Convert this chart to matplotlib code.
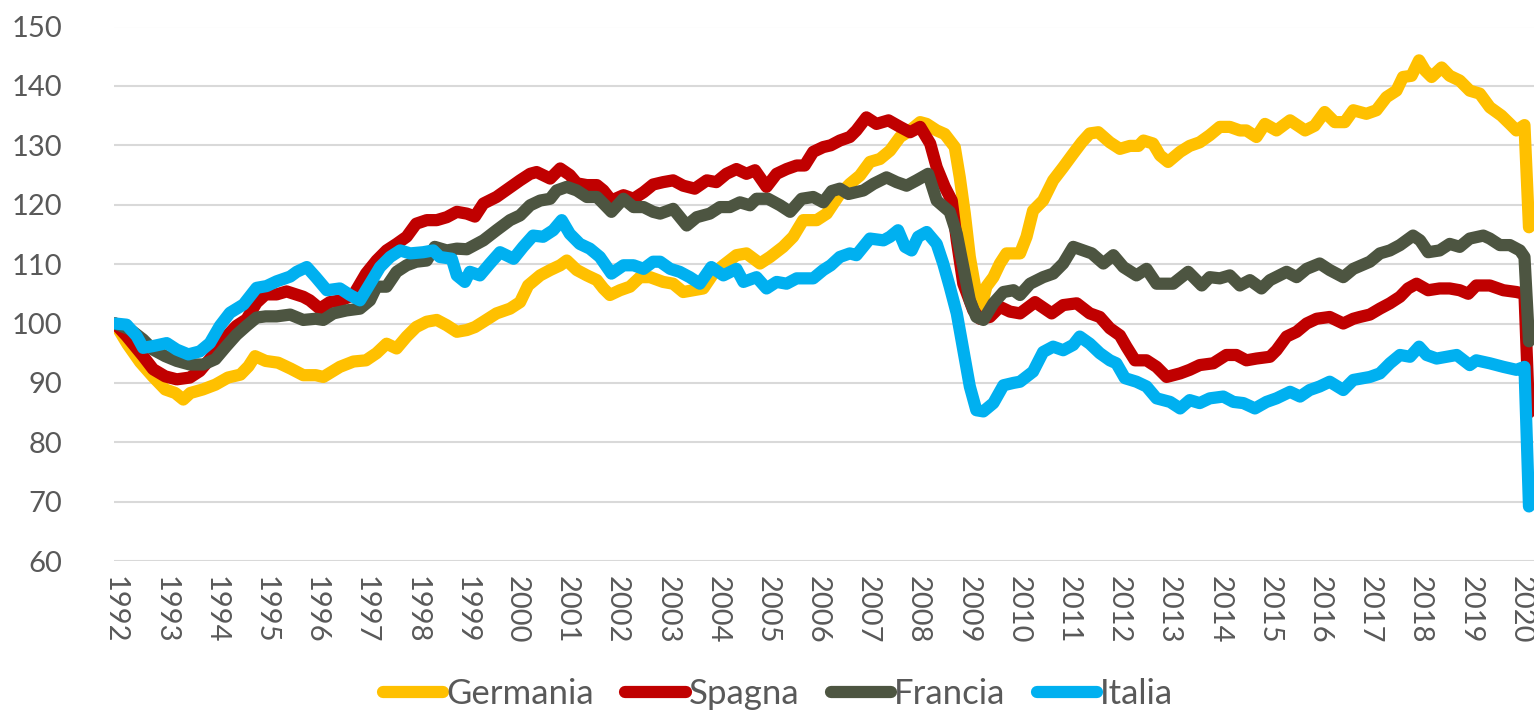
import matplotlib
matplotlib.use("Agg")
import matplotlib.pyplot as plt
from matplotlib.lines import Line2D

plt.rcParams['font.family'] = ['Lato', 'DejaVu Sans']

# (decimal year, index value) readings
germania = [
    (1992.00, 100), (1992.25, 96.5), (1992.50, 93.5), (1992.75, 91.1), (1993.00, 88.9),
    (1993.20, 88.3), (1993.36, 87.2), (1993.50, 88.3), (1993.75, 88.9), (1994.00, 89.7),
    (1994.25, 90.9), (1994.50, 91.4), (1994.66, 92.8), (1994.79, 94.5), (1995.00, 93.7),
    (1995.25, 93.4), (1995.50, 92.4), (1995.75, 91.3), (1996.00, 91.3), (1996.15, 91.0),
    (1996.48, 92.7), (1996.75, 93.6), (1997.00, 93.8), (1997.21, 95.0), (1997.41, 96.6),
    (1997.61, 95.8), (1997.81, 97.8), (1998.00, 99.4), (1998.21, 100.3), (1998.41, 100.6),
    (1998.61, 99.7), (1998.81, 98.6), (1999.01, 98.9), (1999.17, 99.4), (1999.34, 100.3),
    (1999.60, 101.7), (1999.87, 102.5), (2000.07, 103.6), (2000.23, 106.4), (2000.47, 108.1),
    (2000.67, 109.0), (2000.87, 109.8), (2001.00, 110.6), (2001.20, 109.0), (2001.40, 108.1),
    (2001.60, 107.3), (2001.73, 105.9), (2001.86, 104.8), (2002.06, 105.6), (2002.26, 106.2),
    (2002.46, 107.8), (2002.66, 107.8), (2002.92, 107.0), (2003.12, 106.7), (2003.32, 105.3),
    (2003.52, 105.6), (2003.72, 105.9), (2003.92, 108.4), (2004.12, 109.8), (2004.38, 111.5),
    (2004.58, 111.8), (2004.85, 110.1), (2005.05, 111.2), (2005.31, 112.9), (2005.51, 114.6),
    (2005.71, 117.4), (2005.98, 117.4), (2006.18, 118.5), (2006.44, 121.8), (2006.64, 123.5),
    (2006.84, 124.9), (2007.04, 127.2), (2007.24, 127.7), (2007.44, 129.1), (2007.64, 131.4),
    (2007.84, 132.5), (2008.04, 133.9), (2008.17, 133.6), (2008.37, 132.5), (2008.53, 131.9),
    (2008.73, 129.7), (2008.83, 124.6), (2008.93, 118.5), (2009.03, 111.2), (2009.16, 105.0),
    (2009.26, 102.8), (2009.36, 106.2), (2009.50, 107.8), (2009.63, 110.1), (2009.76, 111.8),
    (2009.93, 111.8), (2010.03, 111.8), (2010.16, 114.6), (2010.29, 119.0), (2010.49, 120.7),
    (2010.69, 124.1), (2010.89, 126.3), (2011.09, 128.6), (2011.26, 130.5), (2011.42, 132.0),
    (2011.59, 132.2), (2011.82, 130.5), (2012.02, 129.4), (2012.22, 129.9), (2012.39, 129.9),
    (2012.49, 130.8), (2012.68, 130.3), (2012.82, 128.3), (2012.98, 127.2), (2013.22, 128.9),
    (2013.41, 129.9), (2013.61, 130.5), (2013.81, 131.7), (2014.01, 133.1), (2014.21, 133.1),
    (2014.41, 132.5), (2014.54, 132.5), (2014.74, 131.4), (2014.91, 133.6), (2015.14, 132.5),
    (2015.41, 134.2), (2015.71, 132.5), (2015.90, 133.3), (2016.10, 135.6), (2016.30, 133.9),
    (2016.50, 133.9), (2016.67, 135.9), (2016.93, 135.3), (2017.13, 135.9), (2017.33, 138.1),
    (2017.53, 139.2), (2017.66, 141.5), (2017.83, 141.7), (2017.98, 144.3), (2018.10, 142.6),
    (2018.23, 141.5), (2018.43, 143.1), (2018.59, 141.7), (2018.79, 140.9), (2018.99, 139.2),
    (2019.19, 138.7), (2019.39, 136.4), (2019.62, 135.0), (2019.79, 133.6), (2019.92, 132.5),
    (2020.08, 133.4), (2020.17, 116.2),
]

spagna = [
    (1992.00, 100), (1992.23, 97.9), (1992.56, 94.5), (1992.76, 92.3), (1993.00, 91.1),
    (1993.23, 90.6), (1993.49, 90.9), (1993.69, 92.0), (1993.89, 94.0), (1994.16, 97.3),
    (1994.42, 99.6), (1994.62, 100.7), (1994.82, 103.5), (1995.00, 104.9), (1995.22, 104.9),
    (1995.42, 105.4), (1995.75, 104.5), (1995.88, 103.9), (1996.08, 102.5), (1996.28, 103.6),
    (1996.50, 103.9), (1996.75, 104.8), (1997.00, 108.4), (1997.21, 110.6), (1997.41, 112.3),
    (1997.61, 113.4), (1997.81, 114.6), (1998.00, 116.8), (1998.21, 117.4), (1998.41, 117.4),
    (1998.61, 117.9), (1998.81, 118.8), (1999.01, 118.5), (1999.17, 118.0), (1999.34, 120.2),
    (1999.60, 121.3), (1999.87, 122.9), (2000.07, 124.1), (2000.27, 125.2), (2000.40, 125.5),
    (2000.67, 124.4), (2000.87, 126.1), (2001.06, 125.0), (2001.20, 123.6), (2001.40, 123.3),
    (2001.60, 123.3), (2001.73, 122.4), (2001.89, 120.7), (2002.13, 121.6), (2002.33, 121.0),
    (2002.53, 122.1), (2002.72, 123.4), (2002.92, 123.8), (2003.12, 124.1), (2003.32, 123.2),
    (2003.55, 122.7), (2003.79, 124.1), (2003.98, 123.8), (2004.18, 125.2), (2004.38, 126.0),
    (2004.58, 125.2), (2004.75, 125.8), (2004.98, 123.0), (2005.18, 125.2), (2005.38, 126.0),
    (2005.58, 126.6), (2005.74, 126.6), (2005.91, 128.9), (2006.11, 129.7), (2006.26, 130.0),
    (2006.44, 130.8), (2006.64, 131.4), (2006.77, 132.5), (2006.97, 134.7), (2007.17, 133.6),
    (2007.41, 134.2), (2007.64, 133.1), (2007.84, 132.2), (2008.04, 133.1), (2008.24, 130.3),
    (2008.37, 126.3), (2008.53, 123.0), (2008.67, 120.7), (2008.77, 114.0), (2008.90, 106.7),
    (2009.10, 102.2), (2009.23, 100.8), (2009.43, 101.1), (2009.63, 102.8), (2009.83, 102.0),
    (2010.03, 101.7), (2010.33, 103.6), (2010.66, 101.7), (2010.89, 103.1), (2011.16, 103.4),
    (2011.42, 101.7), (2011.62, 101.1), (2011.82, 99.2), (2012.02, 98.0), (2012.15, 96.1),
    (2012.32, 93.8), (2012.55, 93.8), (2012.75, 92.7), (2012.95, 91.0), (2013.22, 91.6),
    (2013.41, 92.2), (2013.61, 93.0), (2013.88, 93.3), (2014.14, 94.7), (2014.34, 94.7),
    (2014.54, 93.8), (2014.74, 94.1), (2015.01, 94.4), (2015.14, 95.5), (2015.34, 97.8),
    (2015.54, 98.6), (2015.74, 100.0), (2015.94, 100.8), (2016.20, 101.1), (2016.47, 100.0),
    (2016.67, 100.8), (2016.80, 101.1), (2017.00, 101.5), (2017.20, 102.5), (2017.40, 103.4),
    (2017.60, 104.5), (2017.76, 105.9), (2017.93, 106.7), (2018.16, 105.6), (2018.39, 105.9),
    (2018.59, 105.9), (2018.79, 105.6), (2018.96, 105.0), (2019.12, 106.4), (2019.39, 106.4),
    (2019.66, 105.6), (2019.92, 105.3), (2020.08, 105.0), (2020.17, 85.0),
]

francia = [
    (1992.00, 100), (1992.30, 99.0), (1992.56, 97.3), (1992.76, 95.6), (1993.00, 94.5),
    (1993.23, 93.7), (1993.49, 93.1), (1993.76, 93.1), (1994.00, 94.0), (1994.22, 96.2),
    (1994.42, 98.1), (1994.62, 99.6), (1994.82, 101.0), (1995.00, 101.2), (1995.22, 101.2),
    (1995.49, 101.5), (1995.75, 100.6), (1996.00, 100.8), (1996.15, 100.6), (1996.35, 101.7),
    (1996.61, 102.2), (1996.88, 102.5), (1997.08, 103.9), (1997.21, 106.2), (1997.41, 106.2),
    (1997.61, 108.7), (1997.81, 109.8), (1998.00, 110.4), (1998.21, 110.6), (1998.37, 112.9),
    (1998.61, 112.3), (1998.81, 112.6), (1999.01, 112.5), (1999.34, 114.0), (1999.60, 115.7),
    (1999.87, 117.4), (2000.07, 118.2), (2000.27, 119.9), (2000.47, 120.7), (2000.67, 121.0),
    (2000.80, 122.4), (2001.00, 123.0), (2001.20, 122.4), (2001.40, 121.3), (2001.60, 121.3),
    (2001.73, 120.2), (2001.89, 118.8), (2002.13, 121.0), (2002.33, 119.6), (2002.53, 119.6),
    (2002.72, 118.8), (2002.86, 118.5), (2003.12, 119.3), (2003.39, 116.5), (2003.59, 117.9),
    (2003.85, 118.5), (2004.05, 119.6), (2004.25, 119.6), (2004.45, 120.4), (2004.65, 119.9),
    (2004.78, 121.0), (2005.01, 121.0), (2005.25, 119.9), (2005.45, 118.8), (2005.68, 121.0),
    (2005.91, 121.3), (2006.11, 120.4), (2006.28, 122.3), (2006.44, 122.7), (2006.61, 121.8),
    (2006.91, 122.4), (2007.11, 123.5), (2007.37, 124.6), (2007.57, 123.8), (2007.77, 123.2),
    (2007.97, 124.1), (2008.20, 125.2), (2008.37, 120.7), (2008.63, 118.8), (2008.77, 115.1),
    (2008.90, 109.5), (2009.03, 103.9), (2009.16, 101.1), (2009.30, 100.6), (2009.50, 103.4),
    (2009.70, 105.3), (2009.90, 105.6), (2010.03, 104.8), (2010.23, 106.7), (2010.49, 107.8),
    (2010.69, 108.4), (2010.89, 110.1), (2011.09, 112.9), (2011.29, 112.3), (2011.46, 111.8),
    (2011.69, 110.1), (2011.89, 111.5), (2012.09, 109.5), (2012.35, 108.1), (2012.55, 109.2),
    (2012.75, 106.7), (2013.08, 106.7), (2013.38, 108.7), (2013.65, 106.4), (2013.81, 107.8),
    (2014.01, 107.6), (2014.21, 108.1), (2014.41, 106.4), (2014.61, 107.3), (2014.84, 105.9),
    (2015.01, 107.3), (2015.34, 108.7), (2015.54, 107.8), (2015.74, 109.2), (2016.00, 110.1),
    (2016.20, 109.0), (2016.47, 107.8), (2016.67, 109.2), (2017.00, 110.4), (2017.20, 111.8),
    (2017.40, 112.3), (2017.60, 113.2), (2017.86, 114.8), (2018.00, 114.0), (2018.16, 112.0),
    (2018.39, 112.3), (2018.59, 113.4), (2018.79, 112.9), (2018.99, 114.3), (2019.26, 114.8),
    (2019.39, 114.3), (2019.59, 113.2), (2019.79, 113.2), (2019.99, 112.3), (2020.08, 111.2),
    (2020.17, 97.0),
]

italia = [
    (1992.00, 100), (1992.23, 99.8), (1992.43, 97.9), (1992.56, 95.9), (1992.76, 96.2),
    (1993.03, 96.7), (1993.23, 95.6), (1993.46, 94.8), (1993.69, 95.3), (1993.89, 96.7),
    (1994.09, 99.6), (1994.29, 101.8), (1994.56, 103.2), (1994.82, 106.0), (1995.02, 106.3),
    (1995.22, 107.1), (1995.49, 107.9), (1995.62, 108.7), (1995.82, 109.5), (1996.00, 107.8),
    (1996.22, 105.6), (1996.48, 105.9), (1996.68, 104.8), (1996.88, 103.9), (1997.08, 106.7),
    (1997.28, 109.5), (1997.48, 111.2), (1997.68, 112.3), (1997.88, 111.8), (1998.14, 112.0),
    (1998.34, 112.3), (1998.47, 111.2), (1998.71, 110.9), (1998.81, 108.1), (1998.97, 107.0),
    (1999.07, 108.7), (1999.27, 108.1), (1999.47, 110.1), (1999.67, 112.0), (1999.94, 110.9),
    (2000.13, 112.9), (2000.33, 114.8), (2000.53, 114.6), (2000.73, 115.7), (2000.90, 117.4),
    (2001.06, 115.1), (2001.26, 113.4), (2001.46, 112.6), (2001.66, 111.2), (2001.89, 108.4),
    (2002.13, 109.8), (2002.33, 109.8), (2002.53, 109.2), (2002.72, 110.4), (2002.86, 110.4),
    (2003.06, 109.2), (2003.25, 108.7), (2003.45, 107.8), (2003.65, 106.7), (2003.88, 109.5),
    (2004.12, 108.1), (2004.38, 109.2), (2004.52, 107.0), (2004.78, 107.8), (2004.98, 105.9),
    (2005.18, 107.0), (2005.38, 106.7), (2005.58, 107.6), (2005.91, 107.6), (2006.11, 109.0),
    (2006.26, 109.8), (2006.44, 111.2), (2006.64, 111.8), (2006.77, 111.5), (2007.04, 114.3),
    (2007.31, 114.0), (2007.44, 114.6), (2007.60, 115.7), (2007.74, 112.9), (2007.87, 112.3),
    (2008.00, 114.6), (2008.17, 115.4), (2008.37, 113.4), (2008.50, 110.1), (2008.63, 106.2),
    (2008.77, 101.7), (2008.90, 95.5), (2009.03, 89.4), (2009.16, 85.4), (2009.30, 85.2),
    (2009.50, 86.6), (2009.70, 89.6), (2009.90, 90.0), (2010.03, 90.2), (2010.29, 91.9),
    (2010.49, 95.2), (2010.69, 96.1), (2010.89, 95.5), (2011.09, 96.4), (2011.22, 97.8),
    (2011.42, 96.6), (2011.62, 95.0), (2011.82, 93.8), (2011.95, 93.3), (2012.12, 90.8),
    (2012.35, 90.2), (2012.55, 89.4), (2012.75, 87.4), (2013.02, 86.8), (2013.22, 85.7),
    (2013.41, 87.1), (2013.61, 86.6), (2013.81, 87.4), (2014.08, 87.7), (2014.28, 86.8),
    (2014.48, 86.6), (2014.71, 85.7), (2014.94, 86.8), (2015.14, 87.4), (2015.41, 88.5),
    (2015.61, 87.7), (2015.80, 88.8), (2016.00, 89.4), (2016.20, 90.2), (2016.47, 88.8),
    (2016.67, 90.5), (2016.87, 90.8), (2017.00, 91.0), (2017.20, 91.6), (2017.40, 93.3),
    (2017.60, 94.7), (2017.80, 94.4), (2017.98, 96.1), (2018.13, 94.7), (2018.33, 94.1),
    (2018.53, 94.4), (2018.73, 94.7), (2018.99, 93.0), (2019.12, 93.8), (2019.39, 93.3),
    (2019.66, 92.7), (2019.92, 92.2), (2020.08, 92.7), (2020.17, 69.2),
]

series_names = ["Germania", "Spagna", "Francia", "Italia"]
series_data = [germania, spagna, francia, italia]
series_colors = ["#FFC000", "#C00000", "#4D5541", "#00B0F0"]

year_ticks = list(range(1992, 2021))
y_ticks = list(range(60, 151, 10))

TXT = "#595959"
W, H = 1534, 713
fig = plt.figure(figsize=(W / 100, H / 100), dpi=100)
ax = fig.add_axes([114 / W, (H - 561.1) / H, (W - 114) / W, (561.1 - 26.5) / H])

LW = 8.8
for name, data, col in zip(series_names, series_data, series_colors):
    t, v = zip(*data)
    ax.plot(t, v, color=col, lw=LW, solid_joinstyle="round", solid_capstyle="round",
            label=name, zorder=3)

ax.set_xlim(1991.98, 2020.27)
ax.set_ylim(60, 150)
ax.set_yticks(y_ticks)
ax.set_xticks(year_ticks)
ax.set_xticklabels([str(y) for y in year_ticks], rotation=-90)
ax.grid(axis="y", color="#D9D9D9", lw=1.5, zorder=0)
ax.grid(axis="x", visible=False)
for s in ax.spines.values():
    s.set_visible(False)
ax.tick_params(axis="both", length=0, labelcolor=TXT, labelsize=21)
ax.tick_params(axis="y", pad=37)
ax.tick_params(axis="x", pad=11)

handles = [Line2D([], [], color=c, lw=LW, solid_capstyle="round") for c in series_colors]
leg = fig.legend(handles, series_names, loc="center", bbox_to_anchor=(778 / W, 1 - 694 / H),
                 ncol=4, frameon=False, fontsize=25, handlelength=1.75, handletextpad=0.08,
                 columnspacing=0.9, borderaxespad=0, borderpad=0)
for txt in leg.get_texts():
    txt.set_color(TXT)

fig.savefig("out.png", dpi=100)
